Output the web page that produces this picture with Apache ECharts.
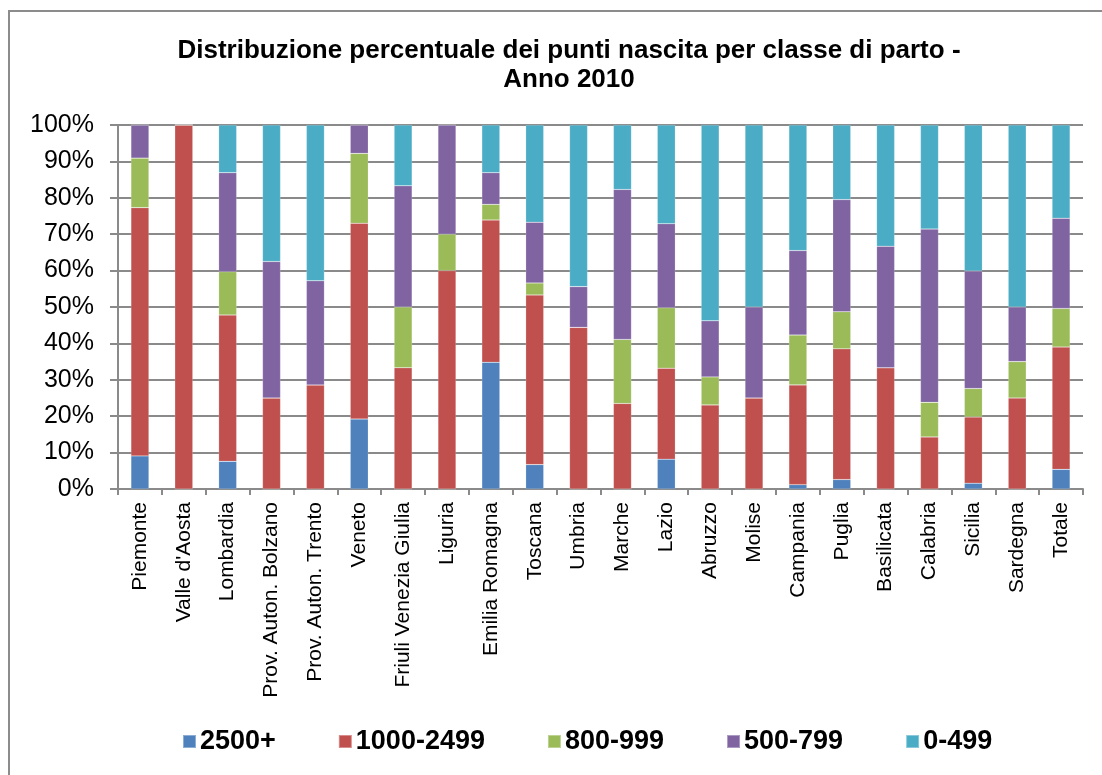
<!DOCTYPE html>
<html>
<head>
<meta charset="utf-8">
<title>Punti nascita per classe di parto - 2010</title>
<script src="https://cdn.jsdelivr.net/npm/echarts/dist/echarts.min.js"></script>
<style>
  html, body { margin: 0; padding: 0; background: #fff; }
  #main { width: 1102px; height: 775px; }
</style>
</head>
<body>
<div id="main"></div>
<script>
// regioni (ultima colonna = totale Italia)
const regioni = ['Piemonte', "Valle d'Aosta", 'Lombardia', 'Prov. Auton. Bolzano', 'Prov. Auton. Trento',
  'Veneto', 'Friuli Venezia Giulia', 'Liguria', 'Emilia Romagna', 'Toscana', 'Umbria', 'Marche',
  'Lazio', 'Abruzzo', 'Molise', 'Campania', 'Puglia', 'Basilicata', 'Calabria', 'Sicilia',
  'Sardegna', 'Totale']

// % punti nascita per classe di parto
const classe2500 = [9.1, 0, 7.6, 0, 0, 19.2, 0, 0, 34.8, 6.7, 0, 0, 8.2, 0, 0, 1.2, 2.6, 0, 0, 1.6, 0, 5.4]
const classe1000 = [68.2, 100, 40.2, 25, 28.6, 53.8, 33.3, 60, 39.1, 46.6, 44.4, 23.5, 25.0, 23.1, 25, 27.4, 35.9, 33.3, 14.3, 18.2, 25, 33.6]
const classe800 = [13.6, 0, 11.9, 0, 0, 19.2, 16.7, 10, 4.3, 3.3, 0, 17.6, 16.6, 7.7, 0, 13.7, 10.2, 0, 9.5, 7.8, 10, 10.6]
const classe500 = [9.1, 0, 27.2, 37.5, 28.6, 7.8, 33.3, 30, 8.7, 16.7, 11.2, 41.2, 23.1, 15.4, 25, 23.2, 30.8, 33.4, 47.6, 32.3, 15, 24.8]
const classe0 = [0, 0, 13.1, 37.5, 42.8, 0, 16.7, 0, 13.1, 26.7, 44.4, 17.7, 27.1, 53.8, 50, 34.5, 20.5, 33.3, 28.6, 40.1, 50, 25.6]

const yTicks = [0, 10, 20, 30, 40, 50, 60, 70, 80, 90, 100]

const serie = [
  { name: '2500+', data: classe2500, color: '#4F81BD' },
  { name: '1000-2499', data: classe1000, color: '#C0504D' },
  { name: '800-999', data: classe800, color: '#9BBB59' },
  { name: '500-799', data: classe500, color: '#8064A2' },
  { name: '0-499', data: classe0, color: '#4BACC6' }
]

const font = 'Liberation Sans, Arial, sans-serif'
const grigio = '#8a8a8a'

let myChart = echarts.init(document.getElementById('main'))
let options = {
  animation: false,
  textStyle: { fontFamily: font },
  title: {
    text: 'Distribuzione percentuale dei punti nascita per classe di parto -\nAnno 2010',
    left: 564,
    textAlign: 'center',
    top: 31,
    textStyle: { fontSize: 26, fontWeight: 'bold', color: '#000', lineHeight: 29, fontFamily: font }
  },
  graphic: [{
    type: 'rect',
    shape: { x: 9, y: 11, width: 1300, height: 1000 },
    style: { fill: 'none', stroke: '#8c8c8c', lineWidth: 2 },
    silent: true
  }],
  legend: {
    data: serie.map(s => s.name),
    left: 182,
    top: 728,
    padding: 0,
    icon: 'rect',
    itemWidth: 13,
    itemHeight: 13,
    itemGap: 62,
    textStyle: { fontSize: 27, fontWeight: 'bold', color: '#000', fontFamily: font, padding: [0, 0, 0, -1] }
  },
  grid: {
    left: 118,
    right: 19,
    top: 125,
    bottom: 286,
    containLabel: false
  },
  xAxis: {
    type: 'category',
    data: regioni,
    boundaryGap: true,
    axisLine: { lineStyle: { color: grigio, width: 2 } },
    axisTick: { show: true, length: 6, lineStyle: { color: grigio, width: 2 } },
    axisLabel: {
      rotate: 90,
      margin: 13,
      interval: 0,
      fontSize: 21,
      color: '#000',
      fontFamily: font
    }
  },
  yAxis: {
    type: 'value',
    min: yTicks[0],
    max: yTicks[yTicks.length - 1],
    interval: 10,
    axisLine: { show: true, lineStyle: { color: grigio, width: 2 } },
    axisTick: { show: true, length: 8, lineStyle: { color: grigio, width: 2 } },
    splitLine: { lineStyle: { color: grigio, width: 2 } },
    axisLabel: {
      formatter: '{value}%',
      margin: 24,
      fontSize: 25,
      color: '#000',
      fontFamily: font
    }
  },
  series: serie.map(s => ({
    name: s.name,
    type: 'bar',
    stack: 'tot',
    barWidth: 18,
    data: s.data,
    itemStyle: { color: s.color, borderColor: 'rgba(255,255,255,0.35)', borderWidth: 0.5 }
  }))
}
myChart.setOption(options)
</script>
</body>
</html>
